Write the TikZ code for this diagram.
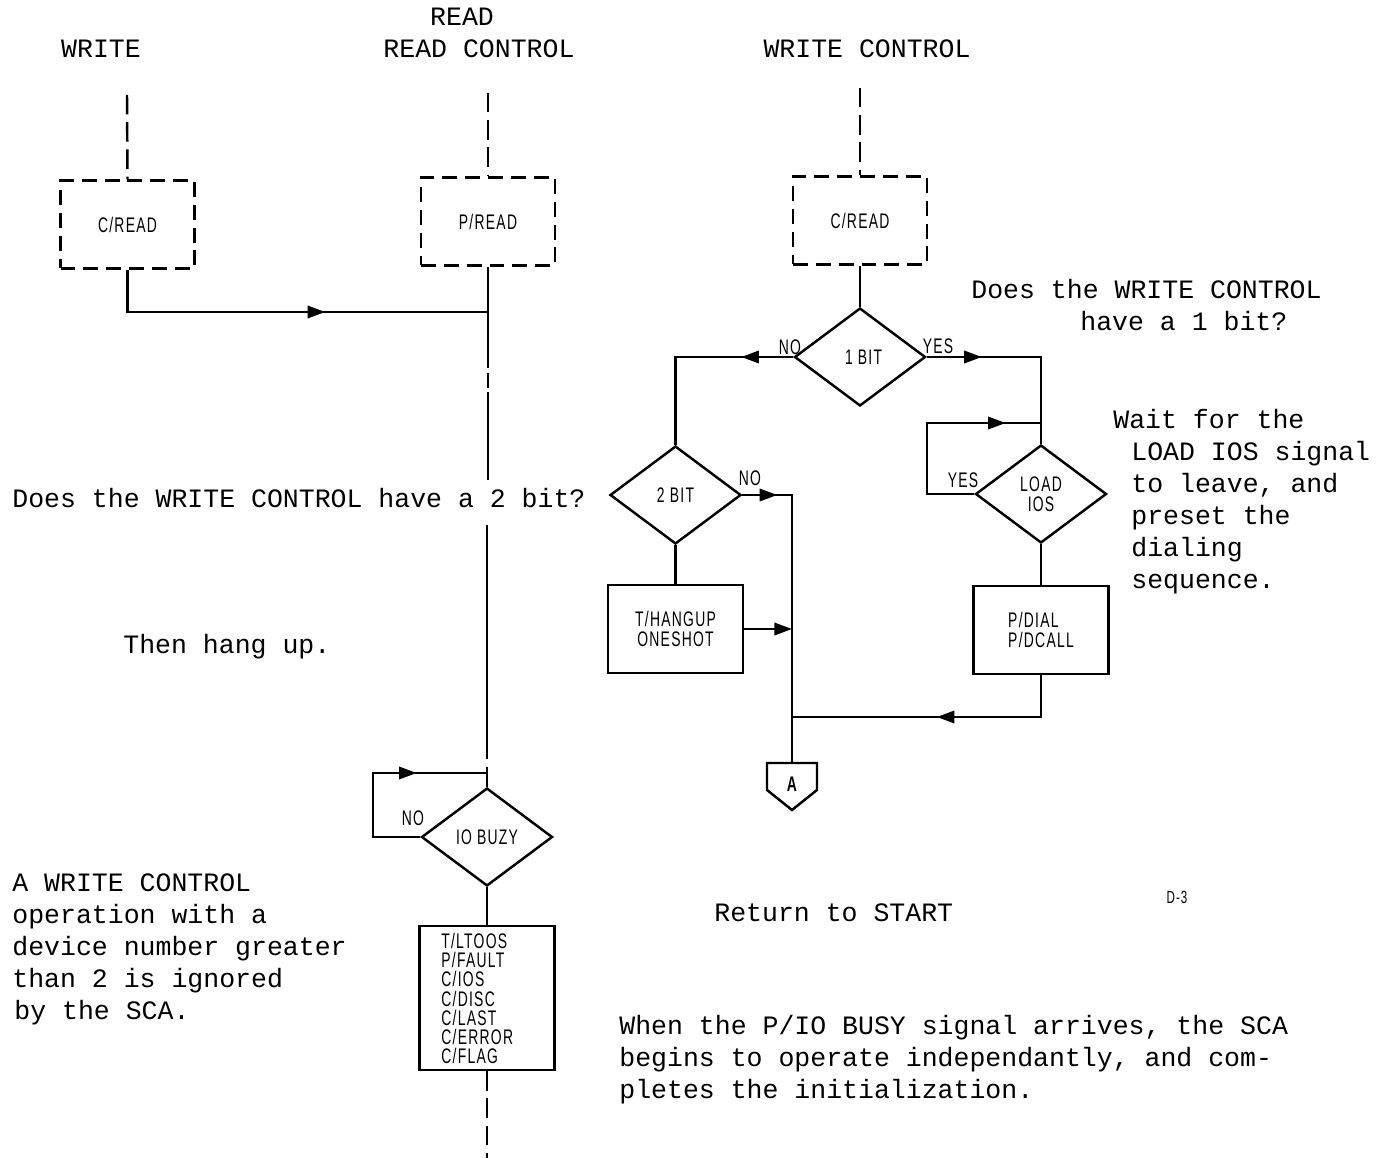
\documentclass[tikz,border=0pt]{standalone}
\usepackage{fontspec}
\newfontfamily\tw{Liberation Mono}
\newfontfamily\bx[FakeStretch=0.66,LetterSpace=6]{Liberation Sans}
\usetikzlibrary{arrows.meta,shapes.geometric,decorations.markings}
\begin{document}
\begin{tikzpicture}[x=0.02cm,y=-0.02cm,
  txt/.style={font=\tw\fontsize{15.1}{18}\selectfont, anchor=base west, inner sep=0pt},
  ttl/.style={font=\tw\fontsize{15.1}{18}\selectfont, anchor=base, inner sep=0pt},
  lbl/.style={font=\bx\fontsize{12}{12}\selectfont, inner sep=0pt},
  dbox/.style={draw, line width=1.4pt, dash pattern=on 8.5pt off 4.5pt, inner sep=0pt, minimum width=2.68cm, minimum height=1.76cm, font=\bx\fontsize{12}{12}\selectfont},
  sbox/.style={draw, line width=1.4pt, inner sep=0pt, minimum width=2.7cm, minimum height=1.76cm, font=\bx\fontsize{12}{11}\selectfont},
  dec/.style={diamond, draw, line width=1.4pt, inner sep=0pt, minimum width=2.62cm, minimum height=1.96cm, font=\bx\fontsize{12}{11.5}\selectfont},
  ln/.style={line width=1.4pt},
  dln/.style={line width=1.4pt, dash pattern=on 11pt off 4.5pt},
  arr/.style={-{Triangle[length=10pt,width=7pt]}},
  marr/.style={decoration={markings, mark=at position #1 with {\arrow{Triangle[length=10pt,width=7pt]}}}, postaction={decorate}},
]
\useasboundingbox (0,0) rectangle (1378,1158);

% titles
\node[ttl] (tw) at (101,58) {WRITE};
\node[ttl] (tr) at (462,26) {READ};
\node[ttl] (trc) at (479,58) {READ CONTROL};
\node[ttl] (twc) at (867,58) {WRITE CONTROL};

% top coordinates
\coordinate (s1) at (127,95);
\coordinate (s2) at (488,93);
\coordinate (s3) at (860,88);

% boxes
\node[dbox] (cread1) at (127.5,224.5) {C/READ};
\node[dbox] (pread) at (488,221.5) {P/READ};
\node[dbox] (cread2) at (860,220.5) {C/READ};

\draw[dln] (s1) -- (cread1.north);
\draw[dln] (s2) -- (pread.north);
\draw[dln] (s3) -- (cread2.north);

% left merge
\coordinate (jA) at (488,312);
\draw[ln, marr=4.8cm] (cread1.south) |- (jA);

% main vertical line
\coordinate (m1) at (488,368);
\coordinate (m2) at (488,373);
\coordinate (m3) at (488,388);
\coordinate (m4) at (488,392);
\coordinate (m5) at (488,480);
\coordinate (m6) at (487,525);
\coordinate (m7) at (487,740);
\coordinate (jB) at (487,773);
\draw[ln] (pread.south) -- (m1);
\draw[ln] (m2) -- (m3);
\draw[ln] (m4) -- (m5);
\draw[ln] (m6) -- (m7);
\draw[dln] (m7) -- (jB);

% IO BUZY
\node[dec] (io) at (487,837) {IO BUZY};
\draw[ln] (jB) -- (io.north);
\draw[ln, marr=3.1cm] (io.west) -- (373,837) -- (373,773) -- (jB);
\node[lbl] (ionolbl) at (413,818) {NO};
\node[sbox, minimum height=2.88cm] (flags) at (487,998) {};
\node[lbl, anchor=north west, align=left, font=\bx\fontsize{12}{10.9}\selectfont] (flagtxt) at (441,933) {T/LTOOS\\P/FAULT\\C/IOS\\C/DISC\\C/LAST\\C/ERROR\\C/FLAG};
\draw[ln] (io.south) -- (flags.north);
\coordinate (bend) at (487,1158);
\draw[dln] (flags.south) -- (bend);

% right flow
\node[dec] (b1) at (860,357) {\hspace*{4pt}1 BIT};
\draw[ln] (cread2.south) -- (b1.north);
\node[lbl] (b1no) at (790,347) {NO};
\node[lbl] (b1yes) at (938,346) {YES};

\node[dec] (b2) at (675.5,495) {2 BIT};
\node[dec, align=center] (lio) at (1041,494) {LOAD\\IOS};
\draw[ln, marr=1.04cm] (b1.west) -| (b2.north);
\draw[ln, marr=1.1cm] (b1.east) -| (lio.north);

\coordinate (jC) at (1041,423);
\draw[ln, marr=3.94cm] (lio.west) -- (927,494) -- (927,423) -- (jC);
\node[lbl] (yeslbl) at (963,480) {YES};

\node[sbox, align=left] (pdial) at (1041,630) {P/DIAL\\P/DCALL};
\draw[ln] (lio.south) -- (pdial.north);

\node[sbox, align=center] (hang) at (675.5,629) {T/HANGUP\\ONESHOT};
\draw[ln] (b2.south) -- (hang.north);

% connector A
\coordinate (Atop) at (792,763);
\draw[ln] (767,763) -- (817,763) -- (817,790) -- (792,810) -- (767,790) -- cycle;
\node[font=\bx\bfseries\fontsize{12}{12}\selectfont, inner sep=0pt] (Alab) at (792,784) {A};

\coordinate (jD) at (792,629);
\coordinate (jE) at (792,717);
\draw[ln, marr=0.7cm] (b2.east) -| (Atop);
\node[lbl] (b2no) at (750,478) {NO};
\draw[ln, arr] (hang.east) -- (jD);
\draw[ln, marr=2.92cm] (pdial.south) |- (jE);

% texts
\node[txt] (t1) at (12,507) {Does the WRITE CONTROL have a 2 bit?};
\node[txt] (t2) at (123,653) {Then hang up.};
\node[txt] (t3a) at (12,891) {A WRITE CONTROL};
\node[txt] (t3b) at (12,923) {operation with a};
\node[txt] (t3c) at (12,955) {device number greater};
\node[txt] (t3d) at (12,987) {than 2 is ignored};
\node[txt] (t3e) at (14,1019) {by the SCA.};

\node[txt] (t4a) at (971,299) {Does the WRITE CONTROL};
\node[txt] (t4b) at (1080,331) {have a 1 bit?};
\node[txt] (t5a) at (1113,428) {Wait for the};
\node[txt] (t5b) at (1131,460) {LOAD IOS signal};
\node[txt] (t5c) at (1131,492) {to leave, and};
\node[txt] (t5d) at (1131,524) {preset the};
\node[txt] (t5e) at (1131,556) {dialing};
\node[txt] (t5f) at (1131,588) {sequence.};

\node[txt] (t6) at (714,921) {Return to START};
\node[font=\bx\fontsize{10}{10}\selectfont, inner sep=0pt] (d3) at (1177,897) {D-3};
\node[txt] (t7a) at (619,1034) {When the P/IO BUSY signal arrives, the SCA};
\node[txt] (t7b) at (619,1066) {begins to operate independantly, and com-};
\node[txt] (t7c) at (619,1098) {pletes the initialization.};
\end{tikzpicture}
\end{document}
